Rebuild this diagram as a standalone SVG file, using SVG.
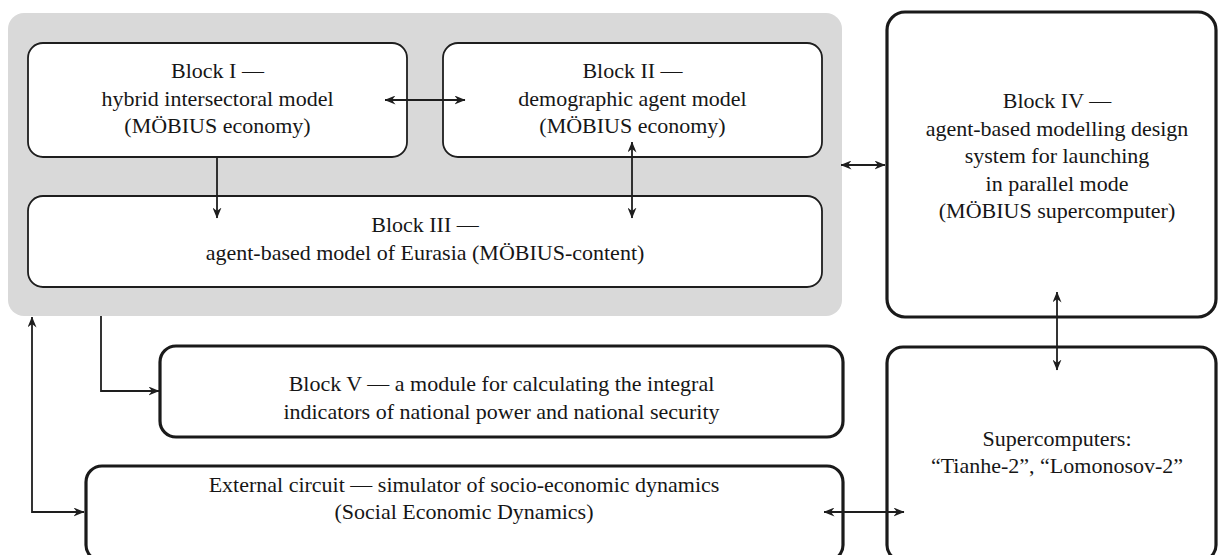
<svg xmlns="http://www.w3.org/2000/svg" width="1218" height="555" viewBox="0 0 1218 555">
<style>
  .thin { fill: #ffffff; stroke: #1e1e1e; stroke-width: 1.8; }
  .thick { fill: #ffffff; stroke: #1a1a1a; stroke-width: 3.2; }
  .lbl { font-family: "Liberation Serif", "Times New Roman", serif; font-size: 22px; fill: #161616; text-anchor: middle; }
  .conn { fill: none; stroke: #1e1e1e; stroke-width: 1.8; }
</style>
<defs>
  <marker id="ah" viewBox="0 0 11 9" refX="10.5" refY="4.5" markerWidth="11" markerHeight="9" markerUnits="userSpaceOnUse" orient="auto-start-reverse">
    <path d="M0,0 L11,4.5 L0,9 L3.5,4.5 Z" fill="#1e1e1e"/>
  </marker>
</defs>
<rect width="1218" height="555" fill="#ffffff"/>

<g id="group-mobius">
  <rect x="8" y="13" width="834" height="303" rx="16" ry="16" fill="#d9d9d9"/>
</g>

<g id="block1">
  <rect class="thin" x="28" y="43" width="379" height="114" rx="15" ry="15"/>
  <text class="lbl" x="217.5" y="78">Block I —</text>
  <text class="lbl" x="217.5" y="106">hybrid intersectoral model</text>
  <text class="lbl" x="217.5" y="133">(MÖBIUS economy)</text>
</g>

<g id="block2">
  <rect class="thin" x="443" y="43" width="379" height="114" rx="15" ry="15"/>
  <text class="lbl" x="632.5" y="78">Block II —</text>
  <text class="lbl" x="632.5" y="106">demographic agent model</text>
  <text class="lbl" x="632.5" y="133">(MÖBIUS economy)</text>
</g>

<g id="block3">
  <rect class="thin" x="28" y="196" width="794" height="91" rx="15" ry="15"/>
  <text class="lbl" x="425" y="232">Block III —</text>
  <text class="lbl" x="425" y="260">agent-based model of Eurasia (MÖBIUS-content)</text>
</g>

<g id="block4">
  <rect class="thick" x="887" y="12" width="329" height="305" rx="18" ry="18"/>
  <text class="lbl" x="1057" y="108">Block IV —</text>
  <text class="lbl" x="1057" y="135.5">agent-based modelling design</text>
  <text class="lbl" x="1057" y="163">system for launching</text>
  <text class="lbl" x="1057" y="190.5">in parallel mode</text>
  <text class="lbl" x="1057" y="218">(MÖBIUS supercomputer)</text>
</g>

<g id="block5">
  <rect class="thick" x="160" y="346" width="683" height="91" rx="16" ry="16"/>
  <text class="lbl" x="501.5" y="391">Block V — a module for calculating the integral</text>
  <text class="lbl" x="501.5" y="419">indicators of national power and national security</text>
</g>

<g id="external">
  <rect class="thick" x="86" y="466" width="757" height="95" rx="16" ry="16"/>
  <text class="lbl" x="464" y="492">External circuit — simulator of socio-economic dynamics</text>
  <text class="lbl" x="464" y="519">(Social Economic Dynamics)</text>
</g>

<g id="supercomputers">
  <rect class="thick" x="887" y="347" width="329" height="214" rx="16" ry="16"/>
  <text class="lbl" x="1057" y="446">Supercomputers:</text>
  <text class="lbl" x="1057" y="473">“Tianhe-2”, “Lomonosov-2”</text>
</g>

<g id="connectors">
  <line class="conn" x1="385" y1="100" x2="465" y2="100" marker-start="url(#ah)" marker-end="url(#ah)"/>
  <line class="conn" x1="217" y1="157" x2="217" y2="218" marker-end="url(#ah)"/>
  <line class="conn" x1="632" y1="142" x2="632" y2="218" marker-start="url(#ah)" marker-end="url(#ah)"/>
  <line class="conn" x1="841" y1="165" x2="885" y2="165" marker-start="url(#ah)" marker-end="url(#ah)"/>
  <line class="conn" x1="1057" y1="292" x2="1057" y2="370" marker-start="url(#ah)" marker-end="url(#ah)"/>
  <line class="conn" x1="824" y1="512" x2="904" y2="512" marker-start="url(#ah)" marker-end="url(#ah)"/>
  <path class="conn" d="M101,316 V391 H159" marker-end="url(#ah)"/>
  <path class="conn" d="M32,317 V512 H84" marker-start="url(#ah)" marker-end="url(#ah)"/>
</g>
</svg>
